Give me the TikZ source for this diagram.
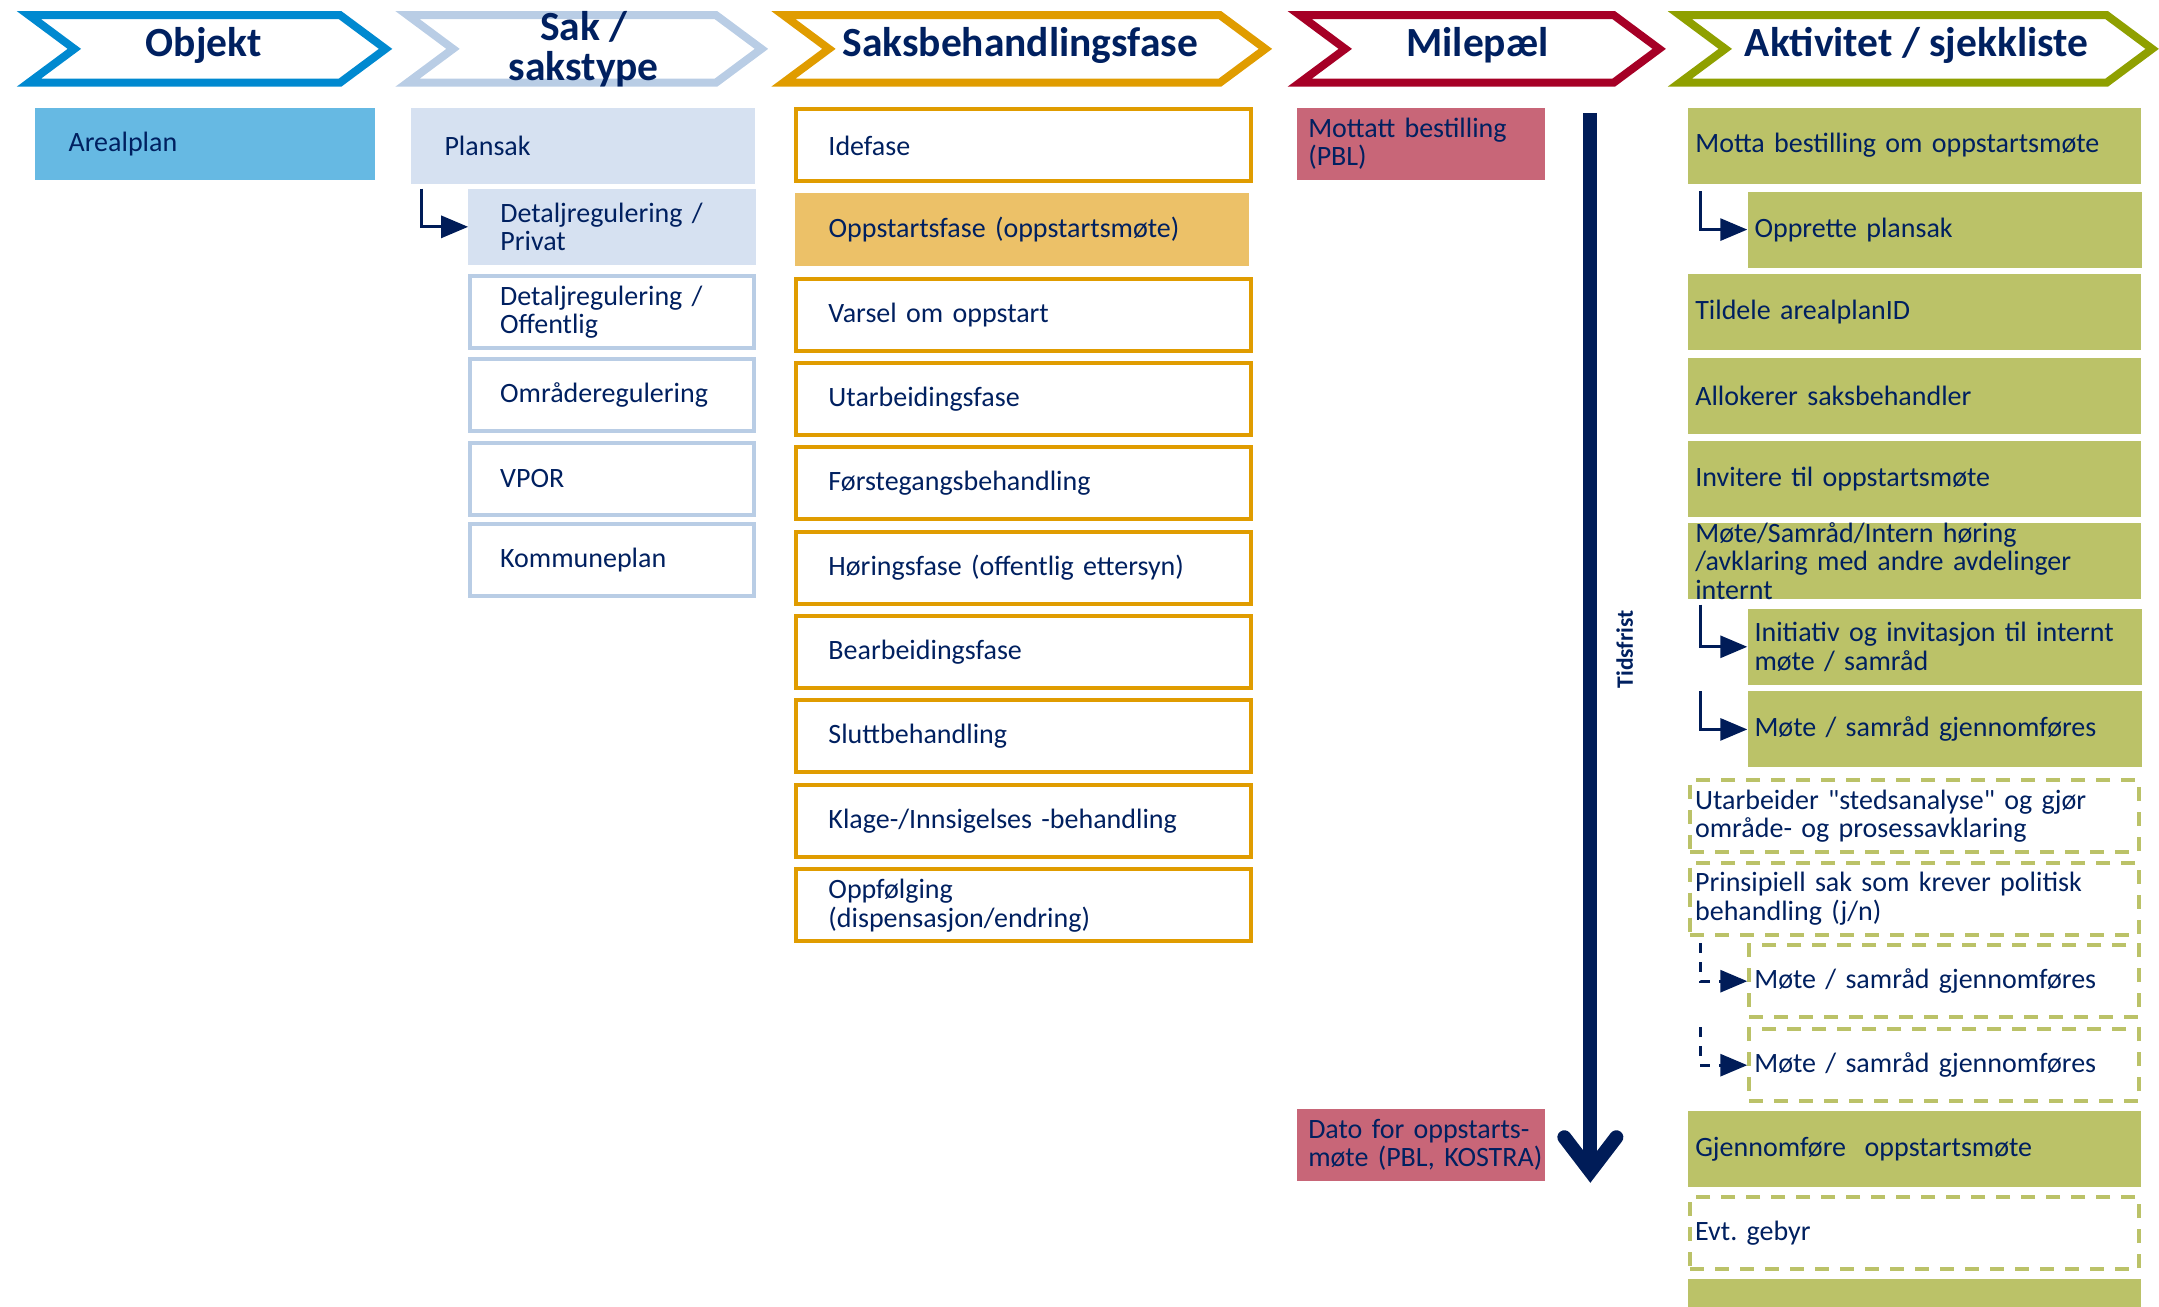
\documentclass[tikz,border=0pt]{standalone}
\usepackage{fontspec}
\setmainfont{Carlito}[Ligatures=TeXOff]
\usepackage{tikz}
\usetikzlibrary{arrows.meta}

\definecolor{navytxt}{RGB}{0,32,96}
\definecolor{navyarr}{RGB}{0,28,88}
\definecolor{objblue}{RGB}{0,137,208}
\definecolor{objfill}{RGB}{102,185,227}
\definecolor{sakline}{RGB}{185,205,229}
\definecolor{sakfill}{RGB}{214,225,241}
\definecolor{faseline}{RGB}{224,156,0}
\definecolor{fasefill}{RGB}{236,193,104}
\definecolor{mileline}{RGB}{166,0,38}
\definecolor{milefill}{RGB}{200,102,120}
\definecolor{aktline}{RGB}{143,160,0}
\definecolor{aktfill}{RGB}{187,194,104}

\begin{document}
\begin{tikzpicture}[x=1.377pt,y=1.377pt,yscale=-1,xscale=1,
  chev/.style={line width=8pt,line join=miter},
  head/.style={text=navytxt,inner sep=0pt,align=center,font=\fontsize{41.5}{40}\selectfont\bfseries},
  box/.style={anchor=north west,inner ysep=0pt,text=navytxt,align=left,font=\fontsize{28}{28.5}\selectfont},
  areal/.style={box,fill=objfill,minimum height=72pt,inner xsep=34pt,text width=272pt},
  plan/.style={box,fill=sakfill,minimum height=76pt,inner xsep=34pt,text width=276pt},
  plansub/.style={box,fill=sakfill,minimum height=76pt,inner xsep=32pt,text width=224pt},
  planopen/.style={box,draw=sakline,line width=4pt,fill=white,minimum height=72pt,inner xsep=30pt,text width=224pt},
  fase/.style={box,draw=faseline,line width=4pt,fill=white,minimum height=72pt,inner xsep=32pt,text width=391pt},
  fasenow/.style={box,fill=fasefill,minimum height=73pt,inner xsep=34pt,text width=386pt},
  mile/.style={box,fill=milefill,minimum height=72pt,inner xsep=11pt,text width=226pt},
  akt/.style={box,fill=aktfill,minimum height=76pt,inner xsep=7pt,text width=439pt},
  aktsub/.style={akt,text width=380pt},
  aktopt/.style={box,draw=aktfill,line width=4pt,dash pattern=on 14pt off 11pt,fill=white,minimum height=72pt,inner xsep=5pt,text width=439pt},
  aktoptsub/.style={aktopt,text width=380pt},
  elbow/.style={draw=navyarr,line width=3pt,-{Triangle[length=27pt,width=22pt]}},
  elbowopt/.style={elbow,dash pattern=on 10pt off 9pt},
  timeline/.style={draw=navyarr,line width=14pt,-{Straight Barb[length=34pt,width=52pt,line cap=round,line join=miter]}}]
\useasboundingbox (0,0) rectangle (1568,949);

%Shape: Chevron Objekt
\draw[chev,draw=objblue] (21,11) -- (247,11) -- (280,35.5) -- (247,60) -- (21,60) -- (54,35.5) -- cycle;
%Shape: Chevron Sak
\draw[chev,draw=sakline] (296,11) -- (520,11) -- (553,35.5) -- (520,60) -- (296,60) -- (329,35.5) -- cycle;
%Shape: Chevron Saksbehandlingsfase
\draw[chev,draw=faseline] (569,11) -- (886,11) -- (919,35.5) -- (886,60) -- (569,60) -- (602,35.5) -- cycle;
%Shape: Chevron Milepael
\draw[chev,draw=mileline] (944,11) -- (1172,11) -- (1205,35.5) -- (1172,60) -- (944,60) -- (977,35.5) -- cycle;
%Shape: Chevron Aktivitet
\draw[chev,draw=aktline] (1220,11) -- (1530,11) -- (1563,35.5) -- (1530,60) -- (1220,60) -- (1253,35.5) -- cycle;

% Text Node
\node[head] (hobjekt) at (148,33) {Objekt};
% Text Node
\node[head] (hsak) at (424,35.5) {Sak /\\sakstype};
% Text Node
\node[head] (hfase) at (741,33) {Saksbehandlingsfase};
% Text Node
\node[head] (hmile) at (1073,33) {Milepæl};
% Text Node
\node[head] (hakt) at (1392,33) {Aktivitet / sjekkliste};

%Objekt
\node[areal] (arealplan) at (25,78) {Arealplan};

%Sak / sakstype
\node[plan] (plansak) at (298,78) {Plansak};
\node[plansub] (dprivat) at (340,137) {Detaljregulering /\\Privat};
\node[planopen] (doffentlig) at (340,199) {Detaljregulering /\\Offentlig};
\node[planopen] (omraade) at (340,259) {Områderegulering};
\node[planopen] (vpor) at (340,320) {VPOR};
\node[planopen] (kplan) at (340,379) {Kommuneplan};

%Saksbehandlingsfase
\node[fase] (idefase) at (577,78) {Idefase};
\node[fasenow] (oppstart) at (577,140) {Oppstartsfase (oppstartsmøte)};
\node[fase] (varsel) at (577,201) {Varsel om oppstart};
\node[fase] (utarb) at (577,262) {Utarbeidingsfase};
\node[fase] (forste) at (577,323) {Førstegangsbehandling};
\node[fase] (horing) at (577,385) {Høringsfase (offentlig ettersyn)};
\node[fase] (bearb) at (577,446) {Bearbeidingsfase};
\node[fase] (slutt) at (577,507) {Sluttbehandling};
\node[fase] (klage) at (577,569) {Klage-/Innsigelses -behandling};
\node[fase] (oppfolg) at (577,630) {Oppfølging\\(dispensasjon/endring)};

%Milepael
\node[mile] (mottatt) at (942,78) {Mottatt bestilling\\(PBL)};
\node[mile] (dato) at (942,805) {Dato for oppstarts-\\\mbox{møte (PBL, KOSTRA)}};
\coordinate (tstart) at (1155,82);
\coordinate (tend) at (1155,859);
\draw[timeline] (tstart) -- (tend);
% Text Node
\node[rotate=90,text=navytxt,inner sep=0pt,font=\fontsize{23.5}{23.5}\selectfont\bfseries] (tidsfrist) at (1180,471.5) {Tidsfrist};

%Aktivitet / sjekkliste
\node[akt] (motta) at (1226,78) {Motta bestilling om oppstartsmøte};
\node[aktsub] (opprette) at (1269,139) {Opprette plansak};
\node[akt] (tildele) at (1226,199) {Tildele arealplanID};
\node[akt] (allok) at (1226,260) {Allokerer saksbehandler};
\node[akt] (invitere) at (1226,320) {Invitere til oppstartsmøte};
\node[akt,text height=19pt,text depth=57pt] (samraad) at (1226,380) {Møte/Samråd/Intern høring\\/avklaring med andre avdelinger\\internt};
\node[aktsub] (initiativ) at (1269,442) {Initiativ og invitasjon til internt\\møte / samråd};
\node[aktsub] (gjfor) at (1269,502) {Møte / samråd gjennomføres};
\node[aktopt] (stedsan) at (1226,565) {Utarbeider "stedsanalyse" og gjør\\område- og prosessavklaring};
\node[aktopt] (prinsip) at (1226,625) {Prinsipiell sak som krever politisk\\behandling (j/n)};
\node[aktoptsub] (gjforja) at (1269,685) {Møte / samråd gjennomføres};
\node[aktoptsub] (gjfornei) at (1269,746) {Møte / samråd gjennomføres};
\node[akt] (gjoppst) at (1226,807) {Gjennomføre~ oppstartsmøte};
\node[aktopt] (gebyr) at (1226,868) {Evt.\ gebyr};
\node[akt] (neste) at (1226,929) {};

%Straight Lines
\draw[elbow] ([xshift=-47pt]dprivat.north west) |- (dprivat.west);
\draw[elbow] ([xshift=-47pt]opprette.north west) |- (opprette.west);
\draw[elbow] ([xshift=-47pt,yshift=-4pt]initiativ.north west) |- (initiativ.west);
\draw[elbow] ([xshift=-47pt]gjfor.north west) |- (gjfor.west);
\draw[elbowopt] ([xshift=-47pt]gjforja.north west) |- (gjforja.west);
\draw[elbowopt] ([xshift=-47pt]gjfornei.north west) |- (gjfornei.west);

\end{tikzpicture}
\end{document}
